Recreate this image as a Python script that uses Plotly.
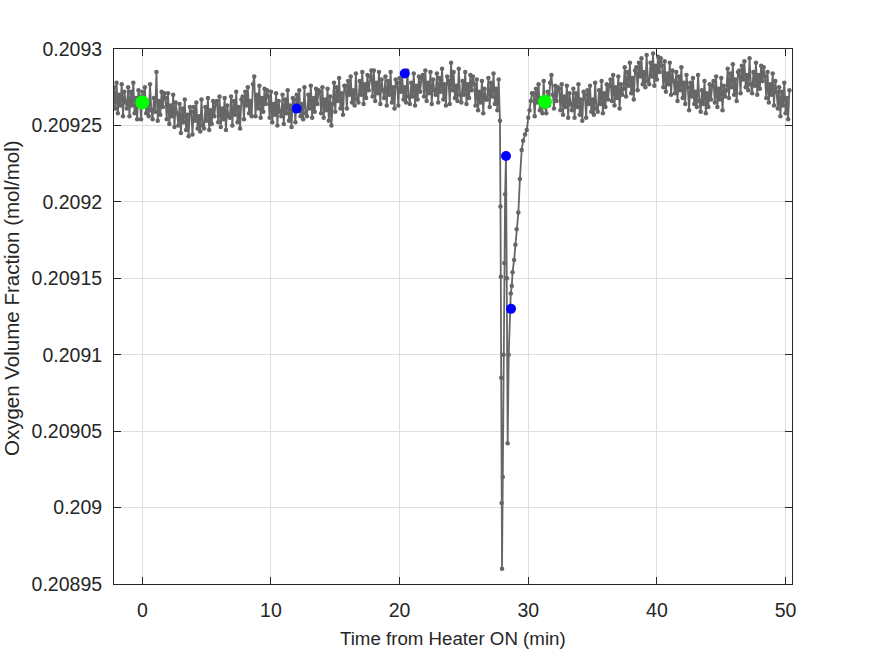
import plotly.graph_objects as go

# ---- data (time in min, O2 in mol/mol) ----
time_a = [
    -2.2, -2.1, -2.0, -1.9, -1.8, -1.7, -1.6, -1.5, -1.4, -1.3,
    -1.2, -1.1, -1.0, -0.9, -0.8, -0.7, -0.6, -0.5, -0.4, -0.3,
    -0.2, -0.1, 0.0, 0.1, 0.2, 0.3, 0.4, 0.5, 0.6, 0.7,
    0.8, 0.9, 1.0, 1.1, 1.2, 1.3, 1.4, 1.5, 1.6, 1.7,
    1.8, 1.9, 2.0, 2.1, 2.2, 2.3, 2.4, 2.5, 2.6, 2.7,
    2.8, 2.9, 3.0, 3.1, 3.2, 3.3, 3.4, 3.5, 3.6, 3.7,
    3.8, 3.9, 4.0, 4.1, 4.2, 4.3, 4.4, 4.5, 4.6, 4.7,
    4.8, 4.9, 5.0, 5.1, 5.2, 5.3, 5.4, 5.5, 5.6, 5.7,
    5.8, 5.9, 6.0, 6.1, 6.2, 6.3, 6.4, 6.5, 6.6, 6.7,
    6.8, 6.9, 7.0, 7.1, 7.2, 7.3, 7.4, 7.5, 7.6, 7.7,
    7.8, 7.9, 8.0, 8.1, 8.2, 8.3, 8.4, 8.5, 8.6, 8.7,
    8.8, 8.9, 9.0, 9.1, 9.2, 9.3, 9.4, 9.5, 9.6, 9.7,
    9.8, 9.9, 10.0, 10.1, 10.2, 10.3, 10.4, 10.5, 10.6, 10.7,
    10.8, 10.9, 11.0, 11.1, 11.2, 11.3, 11.4, 11.5, 11.6, 11.7,
    11.8, 11.9, 12.0, 12.1, 12.2, 12.3, 12.4, 12.5, 12.6, 12.7,
    12.8, 12.9, 13.0, 13.1, 13.2, 13.3, 13.4, 13.5, 13.6, 13.7,
    13.8, 13.9, 14.0, 14.1, 14.2, 14.3, 14.4, 14.5, 14.6, 14.7,
    14.8, 14.9, 15.0, 15.1, 15.2, 15.3, 15.4, 15.5, 15.6, 15.7,
    15.8, 15.9, 16.0, 16.1, 16.2, 16.3, 16.4, 16.5, 16.6, 16.7,
    16.8, 16.9, 17.0, 17.1, 17.2, 17.3, 17.4, 17.5, 17.6, 17.7,
    17.8, 17.9, 18.0, 18.1, 18.2, 18.3, 18.4, 18.5, 18.6, 18.7,
    18.8, 18.9, 19.0, 19.1, 19.2, 19.3, 19.4, 19.5, 19.6, 19.7,
    19.8, 19.9, 20.0, 20.1, 20.2, 20.3, 20.4, 20.5, 20.6, 20.7,
    20.8, 20.9, 21.0, 21.1, 21.2, 21.3, 21.4, 21.5, 21.6, 21.7,
    21.8, 21.9, 22.0, 22.1, 22.2, 22.3, 22.4, 22.5, 22.6, 22.7,
    22.8, 22.9, 23.0, 23.1, 23.2, 23.3, 23.4, 23.5, 23.6, 23.7,
    23.8, 23.9, 24.0, 24.1, 24.2, 24.3, 24.4, 24.5, 24.6, 24.7,
    24.8, 24.9, 25.0, 25.1, 25.2, 25.3, 25.4, 25.5, 25.6, 25.7,
    25.8, 25.9, 26.0, 26.1, 26.2, 26.3, 26.4, 26.5, 26.6, 26.7,
    26.8, 26.9, 27.0, 27.1, 27.2, 27.3, 27.4, 27.5, 27.6, 27.7,
]
o2_a = [
    0.209275, 0.209261, 0.209278, 0.209258, 0.209270, 0.209263, 0.209277, 0.209256, 0.209272, 0.209265,
    0.209261, 0.209275, 0.209256, 0.209272, 0.209263, 0.209278, 0.209258, 0.209268, 0.209254, 0.209273,
    0.209269, 0.209254, 0.209272, 0.209263, 0.209275, 0.209258, 0.209266, 0.209256, 0.209277, 0.209260,
    0.209254, 0.209268, 0.209259, 0.209285, 0.209253, 0.209266, 0.209257, 0.209272, 0.209262, 0.209271,
    0.209268, 0.209254, 0.209271, 0.209251, 0.209263, 0.209256, 0.209270, 0.209249, 0.209265, 0.209258,
    0.209250, 0.209264, 0.209245, 0.209261, 0.209252, 0.209267, 0.209247, 0.209257, 0.209243, 0.209262,
    0.209259, 0.209244, 0.209262, 0.209253, 0.209265, 0.209248, 0.209256, 0.209246, 0.209267, 0.209250,
    0.209248, 0.209262, 0.209253, 0.209268, 0.209247, 0.209260, 0.209251, 0.209266, 0.209256, 0.209265,
    0.209266, 0.209252, 0.209269, 0.209249, 0.209261, 0.209254, 0.209268, 0.209247, 0.209263, 0.209256,
    0.209255, 0.209269, 0.209250, 0.209266, 0.209257, 0.209272, 0.209252, 0.209262, 0.209248, 0.209267,
    0.209269, 0.209254, 0.209272, 0.209263, 0.209275, 0.209258, 0.209266, 0.209256, 0.209277, 0.209282,
    0.209256, 0.209270, 0.209261, 0.209276, 0.209255, 0.209268, 0.209259, 0.209274, 0.209264, 0.209273,
    0.209269, 0.209255, 0.209272, 0.209252, 0.209264, 0.209257, 0.209271, 0.209250, 0.209266, 0.209259,
    0.209256, 0.209270, 0.209251, 0.209267, 0.209258, 0.209273, 0.209253, 0.209263, 0.209249, 0.209268,
    0.209267, 0.209252, 0.209270, 0.209261, 0.209273, 0.209256, 0.209264, 0.209254, 0.209275, 0.209258,
    0.209256, 0.209270, 0.209261, 0.209276, 0.209255, 0.209268, 0.209259, 0.209274, 0.209264, 0.209273,
    0.209272, 0.209258, 0.209275, 0.209255, 0.209267, 0.209260, 0.209274, 0.209253, 0.209269, 0.209250,
    0.209264, 0.209278, 0.209259, 0.209275, 0.209266, 0.209281, 0.209261, 0.209271, 0.209257, 0.209276,
    0.209276, 0.209261, 0.209279, 0.209270, 0.209282, 0.209265, 0.209273, 0.209263, 0.209284, 0.209267,
    0.209265, 0.209279, 0.209270, 0.209285, 0.209264, 0.209277, 0.209268, 0.209283, 0.209273, 0.209282,
    0.209286, 0.209269, 0.209286, 0.209266, 0.209278, 0.209271, 0.209285, 0.209264, 0.209280, 0.209273,
    0.209268, 0.209282, 0.209263, 0.209279, 0.209270, 0.209285, 0.209265, 0.209275, 0.209261, 0.209280,
    0.209278, 0.209263, 0.209281, 0.209272, 0.209284, 0.209267, 0.209275, 0.209265, 0.209286, 0.209269,
    0.209264, 0.209278, 0.209269, 0.209284, 0.209263, 0.209276, 0.209267, 0.209282, 0.209272, 0.209281,
    0.209283, 0.209269, 0.209286, 0.209266, 0.209278, 0.209271, 0.209285, 0.209264, 0.209280, 0.209273,
    0.209270, 0.209284, 0.209265, 0.209281, 0.209272, 0.209287, 0.209267, 0.209277, 0.209263, 0.209282,
    0.209279, 0.209264, 0.209291, 0.209273, 0.209285, 0.209268, 0.209276, 0.209266, 0.209287, 0.209270,
    0.209265, 0.209279, 0.209270, 0.209285, 0.209264, 0.209277, 0.209268, 0.209283, 0.209273, 0.209282,
    0.209277, 0.209263, 0.209280, 0.209260, 0.209272, 0.209265, 0.209279, 0.209258, 0.209274, 0.209267,
    0.209267, 0.209281, 0.209262, 0.209278, 0.209269, 0.209284, 0.209264, 0.209274, 0.209260, 0.209280,
]

time_drop = [
    27.80, 27.84, 27.87, 27.90, 27.93, 27.96, 28.02, 28.08, 28.14, 28.20,
    28.27, 28.34, 28.40, 28.48, 28.56, 28.64, 28.72, 28.78, 28.90, 29.00,
    29.10, 29.23, 29.35, 29.49, 29.60, 29.75, 29.88, 30.00, 30.10, 30.20,
    30.29,
]
o2_drop = [
    0.209253, 0.209197, 0.209151, 0.209085, 0.209003, 0.208960, 0.209020, 0.209100, 0.209160, 0.209205,
    0.209230, 0.209150, 0.209042, 0.209100, 0.209130, 0.209140, 0.209145, 0.209154, 0.209162, 0.209172,
    0.209182, 0.209193, 0.209215, 0.209234, 0.209240, 0.209244, 0.209247, 0.209255, 0.209260, 0.209266,
    0.209271,
]

time_c = [
    30.4, 30.5, 30.6, 30.7, 30.8, 30.9, 31.0, 31.1, 31.2, 31.3,
    31.4, 31.5, 31.6, 31.7, 31.8, 31.9, 32.0, 32.1, 32.2, 32.3,
    32.4, 32.5, 32.6, 32.7, 32.8, 32.9, 33.0, 33.1, 33.2, 33.3,
    33.4, 33.5, 33.6, 33.7, 33.8, 33.9, 34.0, 34.1, 34.2, 34.3,
    34.4, 34.5, 34.6, 34.7, 34.8, 34.9, 35.0, 35.1, 35.2, 35.3,
    35.4, 35.5, 35.6, 35.7, 35.8, 35.9, 36.0, 36.1, 36.2, 36.3,
    36.4, 36.5, 36.6, 36.7, 36.8, 36.9, 37.0, 37.1, 37.2, 37.3,
    37.4, 37.5, 37.6, 37.7, 37.8, 37.9, 38.0, 38.1, 38.2, 38.3,
    38.4, 38.5, 38.6, 38.7, 38.8, 38.9, 39.0, 39.1, 39.2, 39.3,
    39.4, 39.5, 39.6, 39.7, 39.8, 39.9, 40.0, 40.1, 40.2, 40.3,
    40.4, 40.5, 40.6, 40.7, 40.8, 40.9, 41.0, 41.1, 41.2, 41.3,
    41.4, 41.5, 41.6, 41.7, 41.8, 41.9, 42.0, 42.1, 42.2, 42.3,
    42.4, 42.5, 42.6, 42.7, 42.8, 42.9, 43.0, 43.1, 43.2, 43.3,
    43.4, 43.5, 43.6, 43.7, 43.8, 43.9, 44.0, 44.1, 44.2, 44.3,
    44.4, 44.5, 44.6, 44.7, 44.8, 44.9, 45.0, 45.1, 45.2, 45.3,
    45.4, 45.5, 45.6, 45.7, 45.8, 45.9, 46.0, 46.1, 46.2, 46.3,
    46.4, 46.5, 46.6, 46.7, 46.8, 46.9, 47.0, 47.1, 47.2, 47.3,
    47.4, 47.5, 47.6, 47.7, 47.8, 47.9, 48.0, 48.1, 48.2, 48.3,
    48.4, 48.5, 48.6, 48.7, 48.8, 48.9, 49.0, 49.1, 49.2, 49.3,
    49.4, 49.5, 49.6, 49.7, 49.8, 49.9, 50.0, 50.1, 50.2, 50.3,
]
o2_c = [
    0.209271, 0.209256, 0.209274, 0.209265, 0.209277, 0.209260, 0.209268, 0.209258, 0.209279, 0.209262,
    0.209258, 0.209272, 0.209263, 0.209278, 0.209283, 0.209270, 0.209261, 0.209276, 0.209266, 0.209275,
    0.209274, 0.209260, 0.209277, 0.209257, 0.209269, 0.209262, 0.209276, 0.209255, 0.209271, 0.209264,
    0.209260, 0.209274, 0.209255, 0.209271, 0.209262, 0.209277, 0.209257, 0.209267, 0.209253, 0.209272,
    0.209270, 0.209255, 0.209273, 0.209264, 0.209276, 0.209259, 0.209267, 0.209257, 0.209278, 0.209261,
    0.209259, 0.209273, 0.209264, 0.209279, 0.209258, 0.209271, 0.209262, 0.209277, 0.209267, 0.209276,
    0.209280, 0.209266, 0.209283, 0.209263, 0.209275, 0.209268, 0.209282, 0.209261, 0.209277, 0.209270,
    0.209274, 0.209288, 0.209269, 0.209285, 0.209276, 0.209291, 0.209271, 0.209281, 0.209267, 0.209286,
    0.209288, 0.209273, 0.209291, 0.209282, 0.209294, 0.209277, 0.209285, 0.209275, 0.209296, 0.209279,
    0.209277, 0.209291, 0.209282, 0.209297, 0.209276, 0.209289, 0.209280, 0.209295, 0.209285, 0.209294,
    0.209289, 0.209275, 0.209292, 0.209272, 0.209284, 0.209277, 0.209291, 0.209270, 0.209286, 0.209279,
    0.209271, 0.209285, 0.209266, 0.209282, 0.209273, 0.209288, 0.209268, 0.209278, 0.209264, 0.209283,
    0.209275, 0.209260, 0.209278, 0.209269, 0.209281, 0.209264, 0.209272, 0.209262, 0.209283, 0.209266,
    0.209259, 0.209273, 0.209264, 0.209279, 0.209258, 0.209271, 0.209262, 0.209277, 0.209267, 0.209276,
    0.209279, 0.209265, 0.209282, 0.209262, 0.209274, 0.209267, 0.209281, 0.209260, 0.209276, 0.209269,
    0.209273, 0.209287, 0.209268, 0.209284, 0.209275, 0.209290, 0.209270, 0.209280, 0.209266, 0.209285,
    0.209286, 0.209271, 0.209289, 0.209280, 0.209292, 0.209275, 0.209283, 0.209273, 0.209294, 0.209277,
    0.209271, 0.209285, 0.209276, 0.209291, 0.209270, 0.209283, 0.209274, 0.209289, 0.209279, 0.209288,
    0.209282, 0.209268, 0.209285, 0.209265, 0.209277, 0.209270, 0.209284, 0.209263, 0.209279, 0.209272,
    0.209261, 0.209275, 0.209256, 0.209272, 0.209263, 0.209278, 0.209258, 0.209268, 0.209254, 0.209273,
]

blue_t = [12.0, 20.4, 28.27, 28.66]
blue_o2 = [0.209261, 0.209284, 0.20923, 0.20913]
green_t = [0.0, 31.3]
green_o2 = [0.209265, 0.2092655]

x_ticks = [0, 10, 20, 30, 40, 50]
y_ticks = [0.20895, 0.209, 0.20905, 0.2091, 0.20915, 0.2092, 0.20925, 0.2093]
y_tick_text = ["0.20895", "0.209", "0.20905", "0.2091", "0.20915", "0.2092", "0.20925", "0.2093"]
x_title = "Time from Heater ON (min)"
y_title = "Oxygen Volume Fraction (mol/mol)"

time_all = time_a + time_drop + time_c
o2_all = o2_a + o2_drop + o2_c

FONT = "Liberation Sans, Arial, Helvetica, sans-serif"
INK = "#262626"

fig = go.Figure()
fig.add_trace(go.Scatter(
    x=time_all, y=o2_all, mode="lines+markers",
    line=dict(color="#666666", width=1.8),
    marker=dict(color="#666666", size=4.5),
    showlegend=False,
))
fig.add_trace(go.Scatter(
    x=blue_t, y=blue_o2, mode="markers",
    marker=dict(color="#0000FF", size=10), showlegend=False,
))
fig.add_trace(go.Scatter(
    x=green_t, y=green_o2, mode="markers",
    marker=dict(color="#00FF00", size=14), showlegend=False,
))

fig.update_layout(
    width=875, height=656,
    margin=dict(l=114, r=83, t=49, b=72, autoexpand=False),
    paper_bgcolor="white", plot_bgcolor="white",
    font=dict(family=FONT, color=INK, size=19),
    annotations=[
        dict(text=x_title, xref="paper", yref="paper", x=0.5, y=-0.102,
             xanchor="center", yanchor="middle", showarrow=False,
             font=dict(size=18.7, color=INK)),
        dict(text=y_title, xref="paper", yref="paper", x=-0.1504, y=0.5346,
             xanchor="center", yanchor="middle", textangle=-90, showarrow=False,
             font=dict(size=20.5, color=INK)),
    ],
)
fig.update_xaxes(
    range=[-2.2, 50.5], tickvals=x_ticks, ticks="inside", ticklen=7,
    tickcolor=INK, showline=True, linecolor=INK, linewidth=1, mirror="ticks",
    showgrid=True, gridcolor="#DEDEDE", gridwidth=1, zeroline=False,
    tickfont=dict(size=19.5), ticklabelstandoff=9,
)
fig.update_yaxes(
    range=[0.20895, 0.2093], tickvals=y_ticks, ticktext=y_tick_text,
    ticks="inside", ticklen=7, tickcolor=INK, showline=True, linecolor=INK,
    linewidth=1, mirror="ticks", showgrid=True, gridcolor="#DEDEDE", gridwidth=1,
    zeroline=False, tickfont=dict(size=19.5), ticklabelstandoff=7,
)

fig.write_html("out.html")
